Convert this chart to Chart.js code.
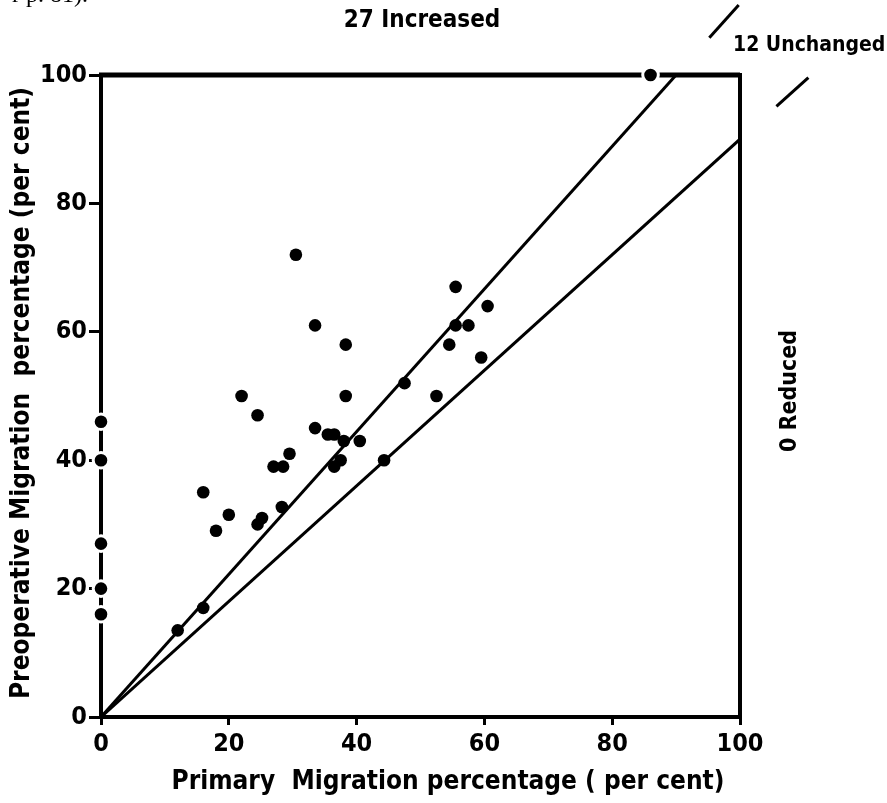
<!DOCTYPE html>
<html>
<head>
<meta charset="utf-8">
<script src="https://cdn.jsdelivr.net/npm/chart.js@4.4.1/dist/chart.umd.min.js"></script>
<style>
  html, body { margin: 0; padding: 0; background: #fff; }
  #wrap { width: 887px; height: 803px; }
</style>
</head>
<body>
<div id="wrap"><canvas id="migrationChart" width="887" height="803"></canvas></div>
<script>
// Dados: migração primária (x) vs pré-operatória (y), em %
const innerPrimary = [12, 16, 16, 18, 20, 22, 24.5, 24.5, 25.2, 27, 28.5, 28.3, 29.5, 30.5, 33.5, 33.5,
  35.5, 36.5, 36.5, 37.5, 38.3, 38.3, 38, 40.5, 44.3, 47.5, 52.5, 54.5, 55.5, 57.5, 55.5, 59.5, 60.5];
const innerPreop = [13.5, 17, 35, 29, 31.5, 50, 47, 30, 31, 39, 39, 32.7, 41, 72, 61, 45,
  44, 44, 39, 40, 58, 50, 43, 43, 40, 52, 50, 58, 61, 61, 67, 56, 64];

// pontos que caem em cima da moldura (eixo esquerdo e topo)
const edgePrimary = [0, 0, 0, 0, 0, 86];
const edgePreop = [46, 40, 27, 20, 16, 100];

// linhas de referência (faixa "inalterado": +/- 10%)
const upperLineX = [0, 90];
const upperLineY = [0, 100];
const lowerLineX = [0, 100];
const lowerLineY = [0, 90];

// pequenos traços fora da moldura, continuação das linhas
const upperSlashX = [95.2, 99.8];
const upperSlashY = [105.8, 110.9];
const lowerSlashX = [105.7, 110.7];
const lowerSlashY = [95.1, 99.6];

const tickValues = [0, 20, 40, 60, 80, 100];

const FONT = '"DejaVu Sans Condensed", "DejaVu Sans", sans-serif';

function toPoints(xs, ys) {
  return xs.map((x, i) => ({ x: x, y: ys[i] }));
}

// Plugin para a moldura e os textos soltos
const framePlugin = {
  id: 'frame',
  beforeDatasetsDraw(chart) {
    const { ctx, chartArea } = chart;
    ctx.save();
    ctx.strokeStyle = '#000';
    ctx.lineWidth = 5;
    ctx.beginPath();
    ctx.moveTo(chartArea.left - 2, chartArea.top);
    ctx.lineTo(chartArea.right, chartArea.top);
    ctx.stroke();
    ctx.lineWidth = 4;
    ctx.beginPath();
    ctx.moveTo(chartArea.right, chartArea.top - 2);
    ctx.lineTo(chartArea.right, chartArea.bottom + 2);
    ctx.stroke();
    ctx.restore();
  },
  afterDraw(chart) {
    const ctx = chart.ctx;
    ctx.save();
    ctx.fillStyle = '#000';

    // pedaço de texto cortado no topo da página
    ctx.font = '24px "Liberation Serif", serif';
    ctx.textAlign = 'left';
    ctx.textBaseline = 'alphabetic';
    ctx.fillText('r p. 81).', 12, 2);

    ctx.font = 'bold 24px ' + FONT;
    ctx.textAlign = 'center';
    ctx.textBaseline = 'middle';
    ctx.fillText('27 Increased', 422, 21);

    ctx.font = 'bold 21px ' + FONT;
    ctx.textAlign = 'left';
    ctx.fillText('12 Unchanged', 733, 46);

    // título do eixo x
    ctx.font = 'bold 26px ' + FONT;
    ctx.textAlign = 'center';
    ctx.fillText('Primary  Migration percentage ( per cent)', 448, 782);

    // título do eixo y (girado)
    ctx.save();
    ctx.translate(22, 393);
    ctx.rotate(-Math.PI / 2);
    ctx.fillText('Preoperative Migration  percentage (per cent)', 0, 0);
    ctx.restore();

    // "0 Reduced" à direita
    ctx.save();
    ctx.font = 'bold 23px ' + FONT;
    ctx.translate(790, 391);
    ctx.rotate(-Math.PI / 2);
    ctx.fillText('0 Reduced', 0, 0);
    ctx.restore();

    ctx.restore();
  }
};

function renderChart() {
  const ctx = document.getElementById('migrationChart').getContext('2d');

  const lineStyle = {
    type: 'line',
    showLine: true,
    borderColor: '#000',
    borderWidth: 3,
    pointRadius: 0,
    fill: false,
    order: 2
  };

  const migrationChart = new Chart(ctx, {
    type: 'scatter',
    data: {
      datasets: [
        {
          label: 'points',
          data: toPoints(innerPrimary, innerPreop),
          backgroundColor: '#000',
          borderColor: '#000',
          pointRadius: 6.3,
          pointBorderWidth: 0,
          order: 0
        },
        {
          label: 'edge points',
          data: toPoints(edgePrimary, edgePreop),
          backgroundColor: '#000',
          borderColor: '#fff',
          pointRadius: 7.8,
          pointBorderWidth: 3,
          clip: false,
          order: 0
        },
        Object.assign({ label: 'upper', data: toPoints(upperLineX, upperLineY) }, lineStyle),
        Object.assign({ label: 'lower', data: toPoints(lowerLineX, lowerLineY) }, lineStyle),
        Object.assign({ label: 'upper slash', data: toPoints(upperSlashX, upperSlashY), clip: false }, lineStyle),
        Object.assign({ label: 'lower slash', data: toPoints(lowerSlashX, lowerSlashY), clip: false }, lineStyle)
      ]
    },
    options: {
      responsive: false,
      animation: false,
      layout: { padding: { left: 0, top: 75, right: 147, bottom: 0 } },
      plugins: {
        legend: { display: false },
        tooltip: { enabled: false }
      },
      scales: {
        x: {
          type: 'linear',
          min: 0,
          max: 100,
          afterBuildTicks: (scale) => { scale.ticks = tickValues.map(v => ({ value: v })); },
          afterFit: (scale) => { scale.height = 86; },
          ticks: {
            color: '#000',
            font: { family: FONT, size: 25, weight: 'bold' },
            padding: 4,
            maxRotation: 0
          },
          grid: {
            drawOnChartArea: false,
            drawTicks: true,
            tickLength: 8,
            tickWidth: 3,
            tickColor: '#000'
          },
          border: { display: true, color: '#000', width: 4 }
        },
        y: {
          type: 'linear',
          min: 0,
          max: 100,
          afterBuildTicks: (scale) => { scale.ticks = tickValues.map(v => ({ value: v })); },
          afterFit: (scale) => { scale.width = 101; },
          ticks: {
            color: '#000',
            font: { family: FONT, size: 25, weight: 'bold' },
            padding: 2
          },
          grid: {
            drawOnChartArea: false,
            drawTicks: true,
            tickLength: 12,
            tickWidth: 3,
            tickColor: '#000'
          },
          border: { display: true, color: '#000', width: 4 }
        }
      }
    },
    plugins: [framePlugin]
  });
  migrationChart.update();
}

renderChart();
</script>
</body>
</html>
